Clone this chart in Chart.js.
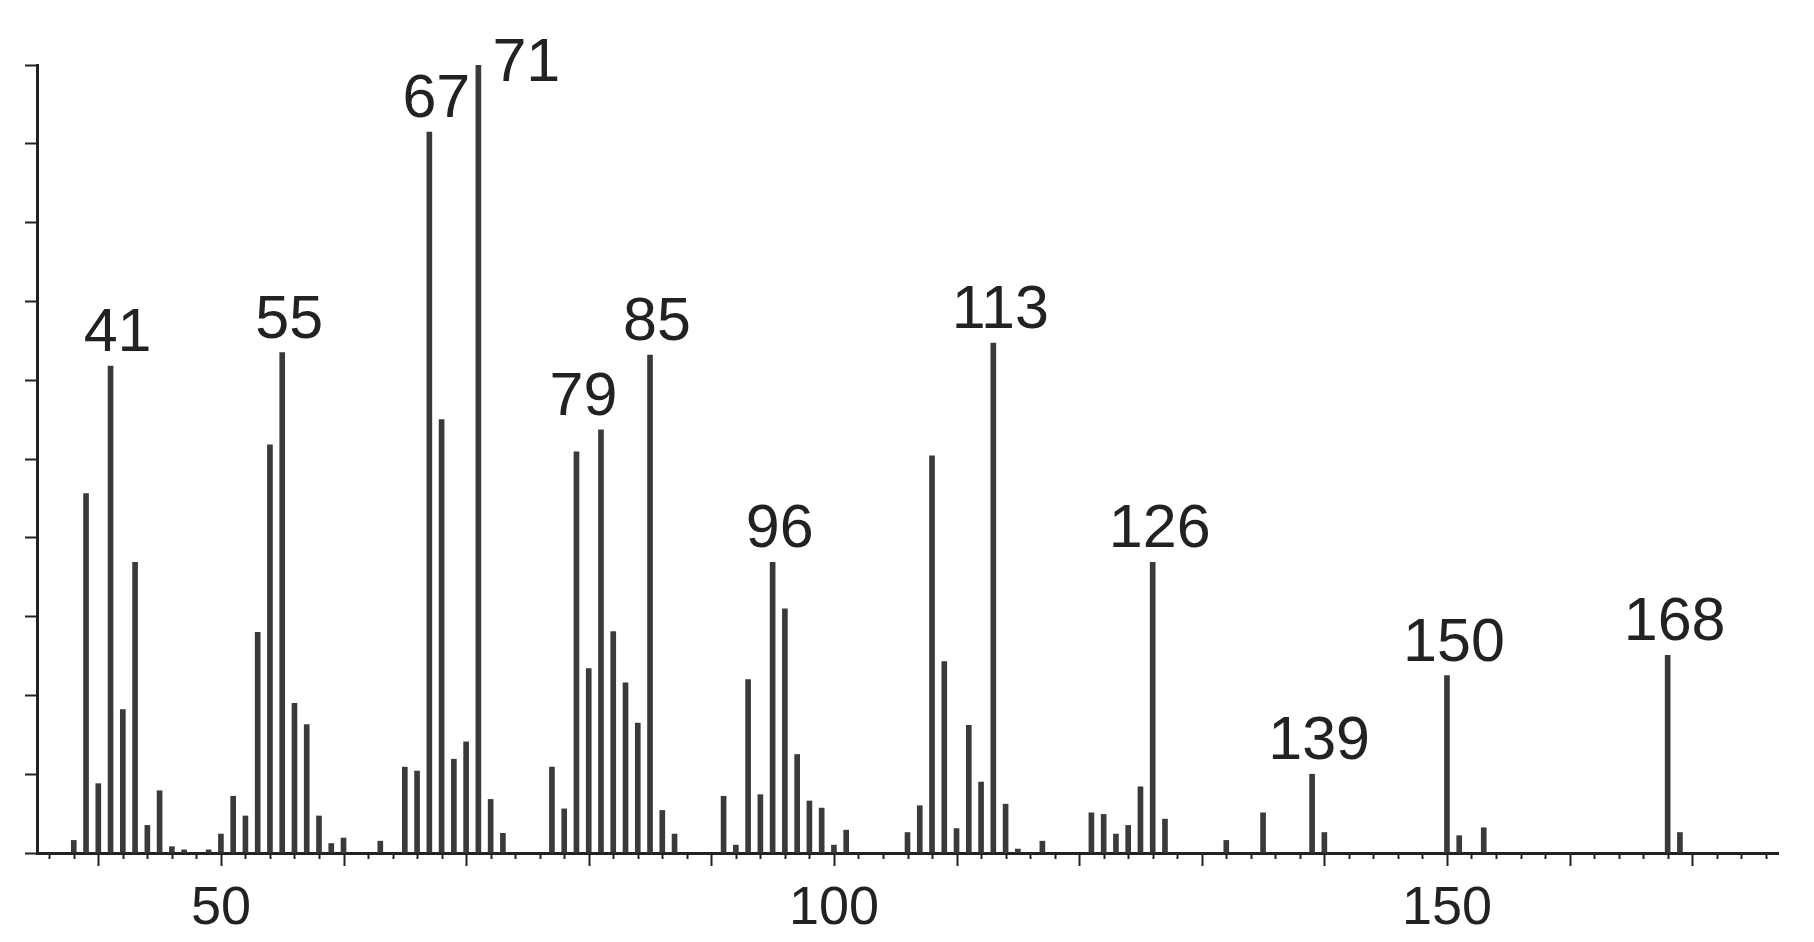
<!DOCTYPE html>
<html>
<head>
<meta charset="utf-8">
<script src="https://cdn.jsdelivr.net/npm/chart.js@4.4.0/dist/chart.umd.min.js"></script>
<style>
  html, body { margin: 0; padding: 0; background: #fff; }
</style>
</head>
<body>
<canvas id="spectrum" width="1814" height="942"></canvas>
<script>
// m/z positions and relative intensities (%)
const massValues = [
  38, 39, 40, 41, 42, 43, 44, 45, 46, 47, 49,
  50, 51, 52, 53, 54, 55, 56, 57, 58, 59, 60, 63,
  65, 66, 67, 68, 69, 70, 71, 72, 73,
  77, 78, 79, 80, 81, 82, 83, 84, 85, 86, 87,
  91, 92, 93, 94, 95, 96, 97, 98, 99, 100, 101,
  106, 107, 108, 109, 110, 111, 112, 113, 114, 115, 117,
  121, 122, 123, 124, 125, 126, 127,
  132, 135, 139, 140,
  150, 151, 153,
  168, 169
];
const intensities = [
  1.6, 45.6, 8.8, 61.8, 18.2, 36.9, 3.5, 7.9, 0.8, 0.4, 0.4,
  2.4, 7.2, 4.7, 28.0, 51.8, 63.5, 19.0, 16.3, 4.7, 1.2, 1.9, 1.5,
  10.9, 10.4, 91.5, 55.0, 11.9, 14.1, 100, 6.8, 2.5,
  10.9, 5.6, 50.9, 23.4, 53.7, 28.1, 21.6, 16.5, 63.2, 5.4, 2.4,
  7.2, 1.0, 22.0, 7.4, 36.9, 31.0, 12.5, 6.6, 5.7, 1.0, 2.9,
  2.6, 6.0, 50.4, 24.3, 3.1, 16.2, 9.0, 64.7, 6.2, 0.5, 1.5,
  5.1, 4.9, 2.4, 3.5, 8.4, 36.9, 4.3,
  1.6, 5.1, 10.0, 2.6,
  22.5, 2.2, 3.2,
  25.1, 2.6
];

// annotated peaks: text and the bar it sits over
const labelTexts = ["41", "55", "67", "71", "79", "85", "96", "113", "126", "139", "150", "168"];
const labelMasses = [41, 55, 67, 71, 79, 85, 95, 113, 126, 139, 150, 168];

const axisLabels = [50, 100, 150];

const INK = "#222";
const FONT = '"Liberation Sans", Arial, sans-serif';

const tickMarks = {
  id: "tickMarks",
  afterDraw(chart) {
    const xs = chart.scales.x;
    const ctx = chart.ctx;
    ctx.save();
    ctx.strokeStyle = INK;
    ctx.lineWidth = 2;
    xs.ticks.forEach((t) => {
      if (t.value % 2 !== 0) return;
      const px = Math.round(xs.getPixelForValue(t.value)) + 0.5;
      const len = t.value % 10 === 0 ? 13 : 6;
      ctx.beginPath();
      ctx.moveTo(px, xs.top);
      ctx.lineTo(px, xs.top + len);
      ctx.stroke();
    });
    ctx.restore();
  },
};

const peakLabels = {
  id: "peakLabels",
  afterDatasetsDraw(chart) {
    const xs = chart.scales.x;
    const ys = chart.scales.y;
    const ctx = chart.ctx;
    ctx.save();
    ctx.font = "61px " + FONT;
    ctx.fillStyle = INK;
    ctx.textAlign = "center";
    ctx.textBaseline = "alphabetic";
    labelTexts.forEach((txt, i) => {
      const m = labelMasses[i];
      const px = xs.getPixelForValue(m);
      const w = ctx.measureText(txt).width;
      let cx = px + 7;
      let top = ys.getPixelForValue(intensities[massValues.indexOf(m)]);
      massValues.forEach((mv, j) => {
        const bx = xs.getPixelForValue(mv);
        if (Math.abs(bx - cx) < w / 2) {
          top = Math.min(top, ys.getPixelForValue(intensities[j]));
        }
      });
      let base = top - 15;
      if (base - 46 < chart.chartArea.top) {
        // no room above the base peak: put it beside the bar
        cx = px + w / 2 + 14;
        base = top + 16;
      }
      ctx.fillText(txt, cx, base);
    });
    ctx.restore();
  },
};

const ctx = document.getElementById("spectrum");
new Chart(ctx, {
  type: "bar",
  data: {
    datasets: [
      {
        data: massValues.map((m, i) => ({ x: m, y: intensities[i] })),
        backgroundColor: "#3a3a3a",
        barThickness: 5,
      },
    ],
  },
  options: {
    responsive: false,
    animation: false,
    events: [],
    layout: { padding: { top: 65, right: 36, left: 0, bottom: 0 } },
    plugins: {
      legend: { display: false },
      tooltip: { enabled: false },
    },
    scales: {
      x: {
        type: "linear",
        min: 35,
        max: 177,
        offset: false,
        afterFit: (scale) => {
          scale.height = 89;
        },
        grid: { display: false, drawTicks: false, offset: false },
        border: { display: true, color: INK, width: 3 },
        ticks: {
          stepSize: 1,
          autoSkip: false,
          maxRotation: 0,
          padding: 24,
          color: INK,
          font: { size: 54, family: FONT },
          callback: (v) => (axisLabels.includes(v) ? String(v) : ""),
        },
      },
      y: {
        min: 0,
        max: 100,
        afterFit: (scale) => {
          scale.width = 37;
        },
        grid: {
          drawOnChartArea: false,
          drawTicks: true,
          tickLength: 12,
          tickColor: INK,
          tickWidth: 2,
        },
        border: { display: true, color: INK, width: 3 },
        ticks: { stepSize: 10, display: false },
      },
    },
  },
  plugins: [tickMarks, peakLabels],
});
</script>
</body>
</html>
